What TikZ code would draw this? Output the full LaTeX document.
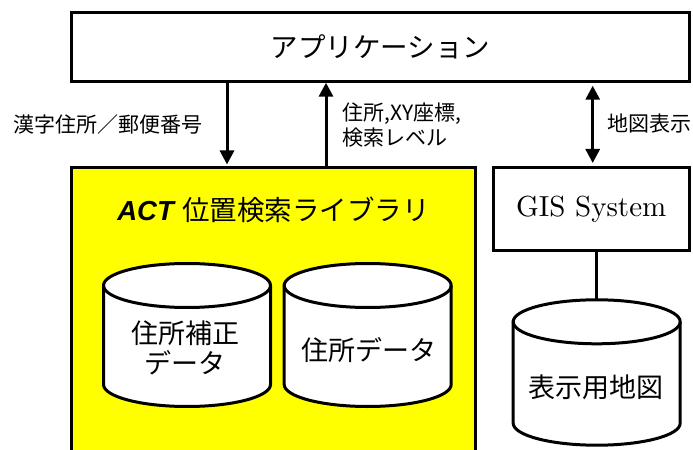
\documentclass[tikz,border=0pt]{standalone}
\usepackage{fontspec}
\newfontfamily\jp{Noto Sans CJK JP}
\newfontfamily\lsans{Liberation Sans}
\newfontfamily\lmten{lmroman10-regular}[Extension=.otf]
\usetikzlibrary{arrows.meta}
\definecolor{libyellow}{RGB}{255,255,0}
\tikzset{
  box/.style={draw, line width=3bp, inner sep=0pt},
  conn/.style={line width=3bp, -{Triangle[width=14bp,length=14bp]}},
  dconn/.style={line width=3bp, {Triangle[width=14bp,length=14bp]}-{Triangle[width=14bp,length=14bp]}},
  lbl/.style={font=\jp\fontsize{21bp}{25bp}\selectfont, inner sep=0pt},
  bigjp/.style={font=\jp\fontsize{27.5bp}{30bp}\selectfont, inner sep=0pt},
  cyltxt/.style={font=\jp\fontsize{27bp}{30bp}\selectfont, inner sep=0pt, align=center},
  cylline/.style={line width=3bp, fill=white, draw=black},
  link/.style={line width=3bp},
}
\newcommand\dbcyl[3]{% cx, top, bottom (image y, line centres)
  \filldraw[cylline] ({#1-83.5},{-(#2+22)}) -- ({#1-83.5},{-(#3-22)})
    arc[start angle=180,end angle=360,x radius=83.5,y radius=22]
    -- ({#1+83.5},{-(#2+22)})
    arc[start angle=0,end angle=180,x radius=83.5,y radius=22] -- cycle;
  \draw[line width=3bp] ({#1-83.5},{-(#2+22)})
    arc[start angle=180,end angle=360,x radius=83.5,y radius=22];
}
\begin{document}
\begin{tikzpicture}[x=1bp,y=1bp]
\clip (0,0) rectangle (693,-450);
\fill[white] (0,0) rectangle (693,-450);

% main boxes
\node[box, bigjp, minimum width=617.5bp, minimum height=69bp] (app) at (380.45,-46.7) {アプリケーション};
\node[box, fill=libyellow, minimum width=404bp, minimum height=310bp] (lib) at (273.5,-323) {};
\node[inner sep=0pt, font=\fontsize{27.5bp}{30bp}\selectfont] (title) at (273.5,-210)
  {{\lsans\bfseries\itshape ACT} {\jp 位置検索ライブラリ}};
\node[box, minimum width=196bp, minimum height=82.7bp, font=\lmten\fontsize{29bp}{35bp}\selectfont] (gis) at (591.2,-208.85) {GIS System};

% arrow x positions
\coordinate (a1) at (227,0);
\coordinate (a2) at (326,0);
\coordinate (a3) at (592.7,0);
\draw[conn, shorten >=2bp] (app.south -| a1) -- (lib.north -| a1);
\draw[conn] (lib.north -| a2) -- (app.south -| a2);
\draw[dconn, shorten <=3bp, shorten >=3bp] (app.south -| a3) -- (gis.north -| a3);

% labels
\node[lbl, anchor=east] (l1) at (203,-125) {漢字住所／郵便番号};
\node[lbl, anchor=west, align=left] (l2) at (342,-125.5) {住所,XY座標,\\検索レベル};
\node[lbl, anchor=west] (l3) at (607,-124) {地図表示};

% GIS to map database
\coordinate (db3top) at (596.7,-299.8);
\draw[link] (gis.south -| db3top) -- (db3top);

% databases
\dbcyl{187}{263.5}{406.5}
\dbcyl{367.7}{263.5}{406.5}
\dbcyl{596.7}{299.8}{445.2}
\node[cyltxt] (db1) at (185,-348) {住所補正\\データ};
\node[cyltxt] (db2) at (369,-350) {住所データ};
\node[cyltxt] (db3) at (595.5,-387) {表示用地図};
\end{tikzpicture}
\end{document}
